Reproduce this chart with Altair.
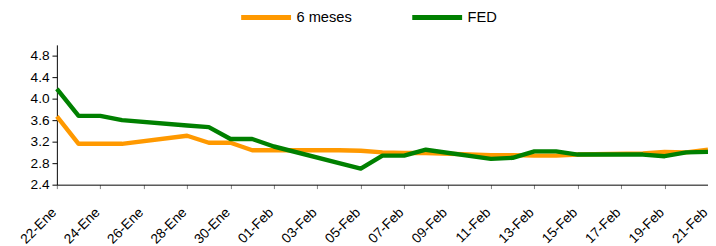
import altair as alt
import pandas as pd

# one entry per calendar day, 22-Ene .. 21-Feb (None = no quote that day)
dates = ["22-Ene", "23-Ene", "24-Ene", "25-Ene", "26-Ene", "27-Ene", "28-Ene", "29-Ene",
         "30-Ene", "31-Ene", "01-Feb", "02-Feb", "03-Feb", "04-Feb", "05-Feb", "06-Feb",
         "07-Feb", "08-Feb", "09-Feb", "10-Feb", "11-Feb", "12-Feb", "13-Feb", "14-Feb",
         "15-Feb", "16-Feb", "17-Feb", "18-Feb", "19-Feb", "20-Feb", "21-Feb"]

seis_meses = [3.67, 3.16, 3.16, 3.16, None, None, 3.31, 3.18,
              3.18, 3.04, 3.04, None, None, 3.04, 3.03, 3.00,
              2.99, 2.99, None, None, 2.95, 2.95, 2.94, 2.94,
              2.96, None, None, 2.98, 3.01, 3.00, 3.05]

fed = [4.18, 3.68, 3.68, 3.60, None, None, 3.50, 3.47,
       3.25, 3.25, 3.11, None, None, 2.80, 2.70, 2.94,
       2.94, 3.05, None, None, 2.88, 2.90, 3.02, 3.02,
       2.96, None, None, 2.96, 2.93, 3.00, 3.01]

series_names = ["6 meses", "FED"]
series_colors = ["#FF9900", "#008000"]

tick_days = list(range(0, 31, 2))
tick_labels = [dates[i] for i in tick_days]
y_ticks = [2.4, 2.8, 3.2, 3.6, 4.0, 4.4, 4.8]

rows = []
for name, vals in zip(series_names, [seis_meses, fed]):
    for i, v in enumerate(vals):
        if v is not None:
            rows.append({"dia": i, "fecha": dates[i], "serie": name, "valor": v})
df = pd.DataFrame(rows)

label_expr = "[" + ",".join("'" + t + "'" for t in tick_labels) + "][round(datum.value / 2)]"

FONT = "Liberation Sans"

chart = alt.Chart(df).mark_line(strokeWidth=4.5, strokeJoin="round").encode(
    x=alt.X("dia:Q",
            scale=alt.Scale(domain=[0, 30], nice=False, zero=False),
            axis=alt.Axis(values=tick_days, labelExpr=label_expr, title=None,
                          grid=False, labelAngle=-45, labelAlign="right",
                          labelBaseline="middle", labelOffset=-3, labelPadding=22,
                          tickSize=4, tickColor="#808080", domainColor="#000000",
                          labelFontSize=14, labelFont=FONT, labelColor="#000000",
                          labelOverlap=False, labelBound=False, labelFlush=False)),
    y=alt.Y("valor:Q",
            scale=alt.Scale(domain=[2.4, 5.0], nice=False, zero=False),
            axis=alt.Axis(values=y_ticks, format=".1f", title=None, grid=False,
                          tickSize=5, tickColor="#000000", domainColor="#000000",
                          labelFontSize=14, labelFont=FONT, labelColor="#000000",
                          labelPadding=3, labelOverlap=False)),
    color=alt.Color("serie:N",
                    scale=alt.Scale(domain=series_names, range=series_colors),
                    legend=alt.Legend(title=None, orient="none", direction="horizontal",
                                      legendX=186, legendY=-56, symbolType="stroke",
                                      symbolSize=2601, symbolStrokeWidth=5,
                                      labelFontSize=15, labelFont=FONT,
                                      labelColor="#000000", labelOffset=3,
                                      columnPadding=51, padding=0, labelLimit=200)),
    order=alt.Order("dia:Q"),
).properties(
    width=666, height=143,
    autosize=alt.AutoSizeParams(type="none"),
    padding={"left": 50, "top": 35, "right": 0, "bottom": 60},
).configure_view(stroke=None)

chart.save("out.html", embed_options={"renderer": "svg", "actions": False})
